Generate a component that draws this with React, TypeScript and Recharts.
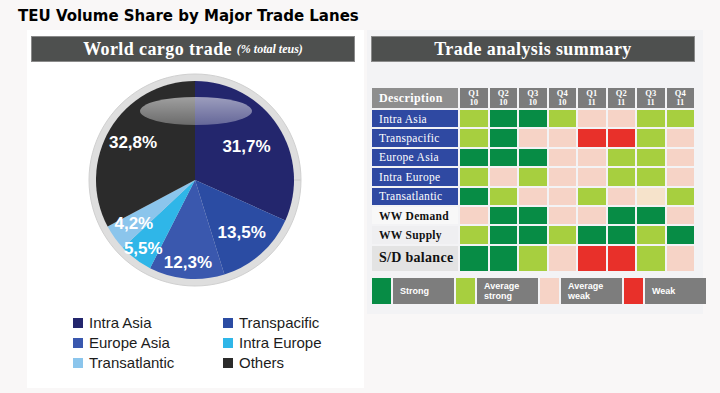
import React from 'react';
import { PieChart, Pie, Cell } from 'recharts';

// pie data
const lanes = ['Intra Asia', 'Transpacific', 'Europe Asia', 'Intra Europe', 'Transatlantic', 'Others'];
const shares = [31.7, 13.5, 12.3, 5.5, 4.2, 32.8];

// summary table
const rowLabels = ['Intra Asia', 'Transpacific', 'Europe Asia', 'Intra Europe', 'Transatlantic', 'WW Demand', 'WW Supply', 'S/D balance'];
const quarters = ['Q1', 'Q2', 'Q3', 'Q4', 'Q1', 'Q2', 'Q3', 'Q4'];
const years = ['10', '10', '10', '10', '11', '11', '11', '11'];
// S = strong, A = average strong, W = average weak, R = weak, N = neutral
const ratings = [
  ['A', 'S', 'S', 'A', 'W', 'W', 'A', 'A'],
  ['A', 'S', 'W', 'W', 'R', 'R', 'A', 'W'],
  ['S', 'S', 'S', 'W', 'W', 'A', 'A', 'W'],
  ['A', 'W', 'A', 'W', 'W', 'A', 'A', 'W'],
  ['S', 'A', 'W', 'W', 'A', 'W', 'N', 'A'],
  ['W', 'S', 'S', 'W', 'W', 'S', 'S', 'W'],
  ['A', 'S', 'S', 'A', 'S', 'S', 'A', 'S'],
  ['S', 'S', 'A', 'W', 'R', 'R', 'A', 'W'],
];
const levelKeys = ['S', 'A', 'W', 'R'];
const levelLabels = ['Strong', 'Average\nstrong', 'Average\nweak', 'Weak'];

const laneColors = ['#23266d', '#2b4ca3', '#3a58ae', '#2fb6e8', '#8bc5ec', '#2b2b2b'];
const levelColors: Record<string, string> = {
  S: '#078c45',
  A: '#a7cf3f',
  W: '#f6d3c6',
  R: '#e8302a',
  N: '#f6e3cb',
};
const labelRadius = [0.62, 0.71, 0.84, 0.87, 0.76, 0.73];

const pieData = lanes.map((name, i) => ({ name, value: shares[i] }));
const ringData = [{ name: 'ring', value: 1 }];

const serif = '"Liberation Serif", "DejaVu Serif", serif';
const sans = '"Liberation Sans", Arial, sans-serif';
const RADIAN = Math.PI / 180;

const renderLabel = (p: any) => {
  const r = p.outerRadius * labelRadius[p.index];
  const x = p.cx + r * Math.cos(-p.midAngle * RADIAN);
  const y = p.cy + r * Math.sin(-p.midAngle * RADIAN);
  return (
    <text x={x} y={y} fill="#fff" fontFamily={sans} fontWeight="bold" fontSize={17}
      textAnchor="middle" dominantBaseline="central">
      {p.value.toFixed(1).replace('.', ',') + '%'}
    </text>
  );
};

const headerBar = (left: number, width: number, children: React.ReactNode) => (
  <div style={{
    position: 'absolute', left, top: 36, width, height: 26, background: '#4e504f',
    border: '1px solid #8a8a8a', boxSizing: 'border-box', color: '#fff', fontFamily: serif,
    fontWeight: 'bold', fontSize: 18, letterSpacing: 0.4, display: 'flex', alignItems: 'center',
    justifyContent: 'center', whiteSpace: 'nowrap',
  }}>{children}</div>
);

export default function App() {
  const rowBg = (i: number) => (i < 5 ? '#2f49a2' : i === 5 ? '#f8f8f8' : i === 6 ? '#efeff1' : '#e3e3e3');
  return (
    <div style={{ position: 'absolute', left: 0, top: 0, width: 720, height: 393, background: '#f9f7f7', overflow: 'hidden' }}>
      <div style={{ position: 'absolute', left: 18, top: 7, fontFamily: '"DejaVu Sans", Verdana, sans-serif', fontWeight: 'bold', fontSize: 15, color: '#000', whiteSpace: 'nowrap' }}>
        TEU Volume Share by Major Trade Lanes
      </div>

      {/* left panel */}
      <div style={{ position: 'absolute', left: 27, top: 30, width: 337, height: 358, background: '#fff' }} />
      {headerBar(31, 324, <>World cargo trade&nbsp;<span style={{ fontSize: 12, fontStyle: 'italic', letterSpacing: 0 }}>(% total teus)</span></>)}

      <div style={{ position: 'absolute', left: 30, top: 65 }}>
        <PieChart width={330} height={230}>
          <Pie data={ringData} dataKey="value" cx={160} cy={110} outerRadius={106} innerRadius={0}
            fill="#dedede" stroke="#d0d0d0" isAnimationActive={false} />
          <Pie data={pieData} dataKey="value" nameKey="name" cx={160} cy={110} outerRadius={99}
            startAngle={90} endAngle={-270} stroke="none" label={renderLabel} labelLine={false}
            isAnimationActive={false}>
            {pieData.map((d, i) => <Cell key={d.name} fill={laneColors[i]} />)}
          </Pie>
        </PieChart>
        <svg width={330} height={230} style={{ position: 'absolute', left: 0, top: 0, pointerEvents: 'none' }}>
          <defs>
            <linearGradient id="gloss" x1="0" y1="0" x2="0" y2="1">
              <stop offset="0%" stopColor="#fff" stopOpacity={0.55} />
              <stop offset="100%" stopColor="#fff" stopOpacity={0.3} />
            </linearGradient>
          </defs>
          <ellipse cx={166} cy={46} rx={56} ry={14} fill="url(#gloss)" />
        </svg>
      </div>

      {/* pie legend */}
      <div style={{ position: 'absolute', left: 73, top: 314, display: 'grid', gridTemplateColumns: '150px 150px', rowGap: 3, fontFamily: sans, fontSize: 15, color: '#1c1c1c' }}>
        {lanes.map((name, i) => (
          <div key={name} style={{ display: 'flex', alignItems: 'center', height: 17 }}>
            <span style={{ width: 10, height: 10, background: laneColors[i], marginRight: 6, display: 'inline-block' }} />
            {name}
          </div>
        ))}
      </div>

      {/* right panel */}
      <div style={{ position: 'absolute', left: 367, top: 30, width: 336, height: 284, background: '#f3f3f5' }} />
      {headerBar(371, 324, 'Trade analysis summary')}

      <div style={{
        position: 'absolute', left: 372, top: 88, display: 'grid',
        gridTemplateColumns: '86px repeat(8, 27.5px)', gridTemplateRows: '20px repeat(7, 17.4px) 25.5px',
        columnGap: 2, rowGap: 2,
      }}>
        <div style={{ background: '#8e8e8e', color: '#fff', fontFamily: serif, fontWeight: 'bold', fontSize: 12, letterSpacing: 0.4, display: 'flex', alignItems: 'center', paddingLeft: 7 }}>
          Description
        </div>
        {quarters.map((q, j) => (
          <div key={'h' + j} style={{ background: '#7c7c7c', color: '#fff', fontFamily: serif, fontWeight: 'bold', fontSize: 8.5, lineHeight: '9px', textAlign: 'center', paddingTop: 1 }}>
            {q}<br />{years[j]}
          </div>
        ))}
        {rowLabels.map((label, i) => (
          <React.Fragment key={label}>
            <div style={{
              background: rowBg(i), color: i < 5 ? '#fff' : '#111', fontFamily: serif,
              fontWeight: i < 5 ? 'normal' : 'bold', fontSize: i === 7 ? 14 : 11.5, letterSpacing: 0.3,
              display: 'flex', alignItems: 'center', paddingLeft: 7, whiteSpace: 'nowrap',
            }}>{label}</div>
            {ratings[i].map((r, j) => (
              <div key={j} style={{ background: levelColors[r] }} />
            ))}
          </React.Fragment>
        ))}
      </div>

      {/* rating legend */}
      <div style={{ position: 'absolute', left: 372, top: 278, display: 'flex', height: 26 }}>
        {levelKeys.map((k, i) => (
          <React.Fragment key={k}>
            <div style={{ width: 19, background: levelColors[k], marginRight: 2 }} />
            <div style={{
              width: 61, background: '#7d7d7d', marginRight: 2, color: '#fff', fontFamily: sans,
              fontWeight: 'bold', fontSize: 9, lineHeight: '10px', display: 'flex', alignItems: 'center',
              paddingLeft: 7, boxSizing: 'border-box', whiteSpace: 'pre',
            }}>{levelLabels[i]}</div>
          </React.Fragment>
        ))}
      </div>
    </div>
  );
}
